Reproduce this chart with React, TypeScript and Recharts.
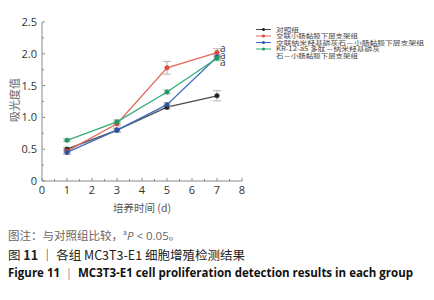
import React from "react";
import { LineChart, Line, XAxis, YAxis, ErrorBar } from "recharts";

const days = [1, 3, 5, 7];
const xTicks = [0, 0.5, 1, 1.5, 2, 2.5, 3, 3.5, 4, 4.5, 5, 5.5, 6, 6.5, 7, 7.5, 8];
const yTicks = [0, 0.25, 0.5, 0.75, 1, 1.25, 1.5, 1.75, 2, 2.25, 2.5];

const control = [0.5, 0.8, 1.16, 1.34];
const controlErr = [0.03, 0.03, 0.03, 0.08];
const sis = [0.47, 0.9, 1.78, 2.02];
const sisErr = [0.03, 0.03, 0.1, 0.06];
const nha = [0.45, 0.8, 1.2, 1.95];
const nhaErr = [0.03, 0.03, 0.03, 0.04];
const kr = [0.64, 0.93, 1.4, 1.93];
const krErr = [0.02, 0.03, 0.03, 0.04];

// legend lines (the last name wraps onto two lines)
const legendLines = [
  ["对照组"],
  ["交联小肠黏膜下层支架组"],
  ["交联纳米羟基磷灰石－小肠黏膜下层支架组"],
  ["KR-12-a5 多肽－纳米羟基磷灰", "石－小肠黏膜下层支架组"],
];
const sigLabels = ["", "a", "a", "a"];

const colors = ["#4a4a4a", "#e26a5c", "#3f6fc4", "#33ad78"];
const dotColors = ["#222", "#d9483a", "#2a55a8", "#1f9a63"];

const data = days.map((d, i) => ({
  day: d,
  control: control[i],
  controlErr: controlErr[i],
  sis: sis[i],
  sisErr: sisErr[i],
  nha: nha[i],
  nhaErr: nhaErr[i],
  kr: kr[i],
  krErr: krErr[i],
}));

const series = [
  { key: "control", err: "controlErr" },
  { key: "sis", err: "sisErr" },
  { key: "nha", err: "nhaErr" },
  { key: "kr", err: "krErr" },
];

const labelDy = [0, -1, 2, 8];

const XTick = (props: any) => {
  const { x, y, payload } = props;
  const major = Number.isInteger(payload.value);
  return (
    <g>
      <line x1={x} x2={x} y1={y} y2={y - (major ? 3 : 2)} stroke="#8a8a8a" strokeWidth={1} />
      {major && (
        <text x={x} y={y + 13} textAnchor="middle" fontSize={11} fill="#333" fontFamily="'Open Sans', sans-serif">
          {payload.value}
        </text>
      )}
    </g>
  );
};

const YTick = (props: any) => {
  const { x, y, payload } = props;
  const v = payload.value;
  const major = Math.abs(v * 2 - Math.round(v * 2)) < 1e-6;
  return (
    <g>
      <line x1={x} x2={x + (major ? 3 : 2)} y1={y} y2={y} stroke="#8a8a8a" strokeWidth={1} />
      {major && (
        <text x={x - 5} y={y + 4} textAnchor="end" fontSize={11} fill="#333" fontFamily="'Open Sans', sans-serif">
          {v === 0 ? "0" : v.toFixed(1)}
        </text>
      )}
    </g>
  );
};

const makeLabel = (idx: number) => (props: any) => {
  const { x, y, index } = props;
  if (index !== days.length - 1 || !sigLabels[idx]) return null;
  return (
    <text x={x + 3} y={y + labelDy[idx]} fontSize={10} fill="#333" fontFamily="'Open Sans', sans-serif">
      {sigLabels[idx]}
    </text>
  );
};

const Legend = () => {
  const rowH = 6.5;
  const lineWidths = [23, 82, 148, 104, 82];
  let row = 0;
  const items: React.ReactNode[] = [];
  legendLines.forEach((lines, i) => {
    const cy = 29.5 + row * rowH;
    items.push(
      <g key={"m" + i}>
        <line x1={256} x2={271} y1={cy} y2={cy} stroke={colors[i]} strokeWidth={1} />
        <circle cx={263.5} cy={cy} r={1.6} fill={dotColors[i]} />
      </g>
    );
    lines.forEach((t, j) => {
      const y = 29.5 + (row + j) * rowH + 2.2;
      items.push(
        <text
          key={"t" + i + "-" + j}
          x={276}
          y={y}
          textLength={lineWidths[row + j]}
          lengthAdjust="spacingAndGlyphs"
          fontSize={6}
          fill="#444"
          fontFamily="'Noto Sans CJK SC', sans-serif"
        >
          {t}
        </text>
      );
    });
    row += lines.length;
  });
  return (
    <svg width={434} height={300} style={{ position: "absolute", left: 0, top: 0, pointerEvents: "none" }}>
      {items}
    </svg>
  );
};

export default function App() {
  return (
    <div
      style={{
        position: "absolute",
        left: 0,
        top: 0,
        width: 434,
        height: 300,
        background: "#fff",
        overflow: "hidden",
      }}
    >
      <LineChart width={434} height={300} data={data} margin={{ top: 22, right: 192, bottom: 99, left: 12 }}>
        <XAxis
          dataKey="day"
          type="number"
          domain={[0, 8]}
          ticks={xTicks}
          interval={0}
          height={20}
          tickSize={0}
          tickMargin={0}
          tick={<XTick />}
          stroke="#8a8a8a"
          allowDecimals
        />
        <YAxis
          type="number"
          domain={[0, 2.5]}
          ticks={yTicks}
          interval={0}
          width={30}
          tickSize={0}
          tickMargin={0}
          tick={<YTick />}
          stroke="#8a8a8a"
        />
        {series.map((s, i) => (
          <Line
            key={s.key}
            dataKey={s.key}
            stroke={colors[i]}
            strokeWidth={1.3}
            dot={{ r: 2.3, fill: dotColors[i], stroke: dotColors[i], strokeWidth: 0.5 }}
            isAnimationActive={false}
            label={makeLabel(i)}
          >
            <ErrorBar dataKey={s.err} width={4} stroke="#b5b5b5" strokeWidth={1} direction="y" />
          </Line>
        ))}
      </LineChart>

      <Legend />

      {/* Y label */}
      <div
        style={{
          position: "absolute",
          left: 14,
          top: 100,
          transform: "translate(-50%, -50%) rotate(-90deg)",
          fontSize: 11,
          color: "#666",
          whiteSpace: "nowrap",
          fontFamily: "'Noto Sans CJK SC', sans-serif",
        }}
      >
        吸光度值
      </div>

      {/* X label */}
      <div
        style={{
          position: "absolute",
          left: 142,
          top: 207,
          transform: "translate(-50%, -50%)",
          fontSize: 10.5,
          color: "#555",
          whiteSpace: "nowrap",
          fontFamily: "'Noto Sans CJK SC', sans-serif",
        }}
      >
        培养时间 (d)
      </div>

      {/* Captions */}
      <div
        style={{
          position: "absolute",
          left: 8,
          top: 227,
          fontSize: 11.5,
          color: "#666",
          whiteSpace: "nowrap",
          fontFamily: "'Noto Sans CJK SC', sans-serif",
        }}
      >
        图注：与对照组比较，<sup style={{ fontSize: 7 }}>a</sup>
        <i style={{ fontFamily: "'Open Sans', sans-serif" }}>P</i>
        <span style={{ fontFamily: "'Open Sans', sans-serif" }}> &lt; 0.05</span>。
      </div>
      <div
        style={{
          position: "absolute",
          left: 8,
          top: 245,
          fontSize: 12.5,
          color: "#222",
          whiteSpace: "nowrap",
          fontFamily: "'Noto Sans CJK SC', sans-serif",
        }}
      >
        图 <b>11</b> ｜ 各组 MC3T3-E1 细胞增殖检测结果
      </div>
      <div
        style={{
          position: "absolute",
          left: 8,
          top: 265,
          fontSize: 11.5,
          color: "#111",
          fontWeight: 700,
          whiteSpace: "nowrap",
          fontFamily: "'Open Sans', sans-serif",
          letterSpacing: 0,
        }}
      >
        Figure 11 <span style={{ fontWeight: 400, color: "#888" }}>｜</span> MC3T3-E1 cell proliferation detection results in each group
      </div>
    </div>
  );
}
